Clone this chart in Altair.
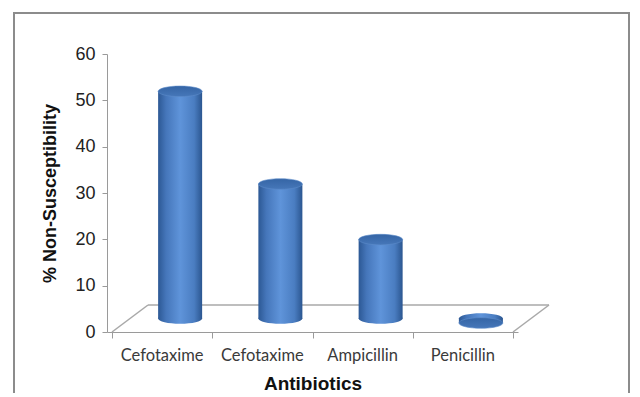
import altair as alt
import pandas as pd

# --- data ---
categories = ["Cefotaxime", "Cefotaxime", "Ampicillin", "Penicillin"]
positions = [0.5, 1.5, 2.5, 3.5]
values = [50, 30, 18, 0]
y_ticks = [0, 10, 20, 30, 40, 50, 60]
x_ticks = [0, 1, 2, 3, 4]

df = pd.DataFrame({"pos": positions, "label": categories, "value": values,
                   "base": [0] * len(values)})
floor_df = pd.DataFrame({"x": [0], "x2": [4], "y": [0]})
side_df = pd.DataFrame({"x": [0, 4], "y": [0, 0]})

DX, DY = 36, -27          # floor depth (pixels)
BX, BY = DX / 2, DY / 2   # cylinders sit at mid depth
TOP_Y = BY + 4.5
W = 44
ELLIPSE = "M -1 0 A 1 0.24 0 1 0 1 0 A 1 0.24 0 1 0 -1 0 Z"

xs = alt.Scale(domain=[0, 4], nice=False)
ys = alt.Scale(domain=[0, 60], nice=False)

body_grad = alt.Gradient(
    gradient="linear", x1=0, x2=1, y1=0, y2=0,
    stops=[alt.GradientStop(color="#2c5894", offset=0),
           alt.GradientStop(color="#4576ba", offset=0.18),
           alt.GradientStop(color="#5f94da", offset=0.5),
           alt.GradientStop(color="#4a7dc1", offset=0.82),
           alt.GradientStop(color="#2b5690", offset=1)])
top_grad = alt.Gradient(
    gradient="linear", x1=0, x2=0, y1=0, y2=1,
    stops=[alt.GradientStop(color="#3565a5", offset=0),
           alt.GradientStop(color="#4677b9", offset=1)])

base = alt.Chart(df)

x_enc = alt.X("pos:Q", scale=xs,
              axis=alt.Axis(values=x_ticks, labels=False, tickSize=6,
                            tickColor="#9a9a9a", domainColor="#9a9a9a",
                            grid=False, title="Antibiotics", titleFontSize=19,
                            titleFont="Liberation Sans", titleFontWeight="bold",
                            titleColor="#111", titlePadding=36))
y_enc = alt.Y("value:Q", scale=ys,
              axis=alt.Axis(values=y_ticks, tickSize=5, tickColor="#9a9a9a",
                            domainColor="#9a9a9a", grid=False,
                            labelFontSize=18, labelFont="Liberation Sans",
                            labelColor="#222", labelPadding=7,
                            title="% Non-Susceptibility", titleFontSize=18,
                            titleFont="Liberation Sans", titleFontWeight="bold",
                            titleColor="#111", titlePadding=15))

frame = alt.Chart(pd.DataFrame({"a": [0]})).mark_rect(
    fill=None, stroke="#8c8c8c", strokeWidth=2
).encode(x=alt.value(-93), x2=alt.value(522), y=alt.value(-41), y2=alt.value(420))

floor_back = alt.Chart(floor_df).mark_rule(
    color="#a8a8a8", strokeWidth=1.5, xOffset=DX, x2Offset=DX, yOffset=DY, y2Offset=DY
).encode(x=alt.X("x:Q", scale=xs), x2="x2:Q", y=alt.Y("y:Q", scale=ys), y2="y:Q")

floor_side = alt.Chart(side_df).mark_rule(
    color="#a8a8a8", strokeWidth=1.5, x2Offset=DX, y2Offset=DY
).encode(x=alt.X("x:Q", scale=xs), x2="x:Q", y=alt.Y("y:Q", scale=ys), y2="y:Q")

bottom = base.mark_point(
    shape=ELLIPSE, size=W * W, filled=True, fill=body_grad, opacity=1,
    strokeWidth=0, xOffset=BX, yOffset=BY
).encode(x=x_enc, y=alt.Y("base:Q", scale=ys))

body = base.mark_bar(
    orient="vertical", size=W, fill=body_grad, xOffset=BX,
    yOffset=TOP_Y, y2Offset=BY
).encode(x=x_enc, y=y_enc, y2="base:Q")

top = base.mark_point(
    shape=ELLIPSE, size=W * W, filled=True, fill=top_grad, opacity=1,
    stroke="#5d8cca", strokeWidth=0.6, xOffset=BX, yOffset=TOP_Y
).encode(x=x_enc, y=alt.Y("value:Q", scale=ys))

labels = base.mark_text(
    dy=24, fontSize=16.5, font="Lato", color="#3a3a3a", baseline="middle"
).encode(x=x_enc, y=alt.Y("base:Q", scale=ys), text="label:N")

chart = alt.layer(frame, floor_back, floor_side, bottom, body, top, labels).properties(
    width=411, height=278,
    autosize=alt.AutoSizeParams(type="none"),
    padding={"left": 99, "top": 46, "right": 114, "bottom": 61},
    background="white"
).configure_view(stroke=None)

chart.save("out.html", embed_options={"renderer": "svg", "actions": False})
